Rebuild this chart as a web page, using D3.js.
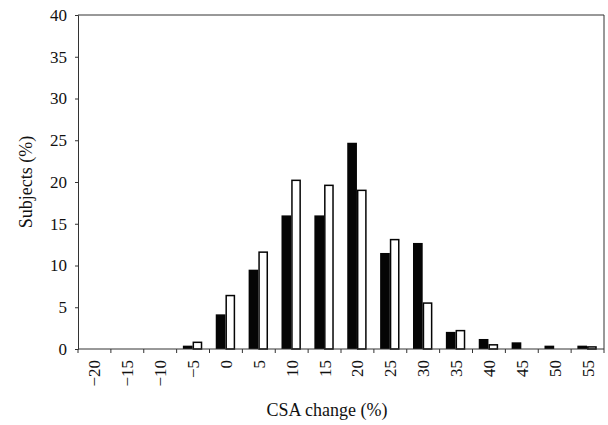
<!DOCTYPE html>
<meta charset="utf-8">
<head>
<script src="https://d3js.org/d3.v7.min.js"></script>
</head>
<style>
  body { margin: 0; background: #fff; }
  svg { display: block; font-family: "Liberation Serif", "DejaVu Serif", serif; }
  .domain, .tick line { stroke: #333; }
</style>
<body>
<script>
  // CSA change bins (%)
  var categories = [-20, -15, -10, -5, 0, 5, 10, 15, 20, 25, 30, 35, 40, 45, 50, 55];
  var blackValues = [0, 0, 0, 0.4, 4.15, 9.5, 16.0, 16.0, 24.7, 11.5, 12.7, 2.05, 1.2, 0.8, 0.4, 0.4];
  var whiteValues = [0, 0, 0, 0.8, 6.4, 11.6, 20.2, 19.6, 19.0, 13.1, 5.5, 2.2, 0.5, 0, 0, 0.25];
  var yTicks = [0, 5, 10, 15, 20, 25, 30, 35, 40];

  var width = 608, height = 425;
  var margin = {top: 15, right: 4, bottom: 76, left: 78};

  var svg = d3.select("body").append("svg")
    .attr("width", width)
    .attr("height", height);

  var x = d3.scaleBand()
    .domain(categories)
    .range([margin.left, width - margin.right])
    .paddingInner(0).paddingOuter(0);

  var sub = d3.scaleBand()
    .domain(["black", "white"])
    .range([x.bandwidth() * 0.19, x.bandwidth() * 0.78]);

  var y = d3.scaleLinear()
    .domain([0, 40])
    .range([height - margin.bottom, margin.top]);

  var fmt = function(d) { return d < 0 ? "\u2212" + Math.abs(d) : String(d); };

  // frame: top and right
  svg.append("line")
    .attr("x1", margin.left).attr("x2", width - margin.right)
    .attr("y1", y(40)).attr("y2", y(40))
    .attr("stroke", "#333");
  svg.append("line")
    .attr("x1", width - margin.right).attr("x2", width - margin.right)
    .attr("y1", y(40)).attr("y2", y(0))
    .attr("stroke", "#333");

  // bars
  var groups = svg.append("g").selectAll("g")
    .data(categories)
   .enter().append("g")
    .attr("transform", function(d) { return "translate(" + x(d) + ",0)"; });

  groups.append("rect")
    .attr("x", sub("black"))
    .attr("width", sub.bandwidth())
    .attr("y", function(d, i) { return y(blackValues[i]); })
    .attr("height", function(d, i) { return y(0) - y(blackValues[i]); })
    .attr("fill", "#050505");

  groups.filter(function(d, i) { return whiteValues[i] > 0; })
    .append("rect")
    .attr("x", sub("white") + 0.75)
    .attr("width", sub.bandwidth() - 1.5)
    .attr("y", function(d) { return y(whiteValues[categories.indexOf(d)]); })
    .attr("height", function(d) { return y(0) - y(whiteValues[categories.indexOf(d)]); })
    .attr("fill", "#fff")
    .attr("stroke", "#050505")
    .attr("stroke-width", 1.5);

  // y axis
  var yAxis = svg.append("g")
    .attr("transform", "translate(" + margin.left + ",0)")
    .call(d3.axisLeft(y).tickValues(yTicks).tickSize(3).tickPadding(8));
  yAxis.selectAll("text")
    .attr("font-size", 17)
    .attr("font-family", "Liberation Serif, serif")
    .attr("fill", "#111");

  // x axis: ticks at bin edges, labels at bin centres
  var xAxisG = svg.append("g");
  xAxisG.append("line")
    .attr("x1", margin.left).attr("x2", width - margin.right)
    .attr("y1", y(0)).attr("y2", y(0))
    .attr("stroke", "#333");
  var edges = categories.map(function(d) { return x(d); }).concat([width - margin.right]);
  xAxisG.selectAll(".edge")
    .data(edges)
   .enter().append("line")
    .attr("class", "edge")
    .attr("x1", function(d) { return d; }).attr("x2", function(d) { return d; })
    .attr("y1", y(0)).attr("y2", y(0) + 4)
    .attr("stroke", "#333");
  xAxisG.selectAll(".lbl")
    .data(categories)
   .enter().append("text")
    .attr("class", "lbl")
    .attr("transform", function(d) {
      return "translate(" + (x(d) + x.bandwidth() / 2 + 6) + "," + (y(0) + 11) + ") rotate(-90)";
    })
    .attr("text-anchor", "end")
    .attr("font-size", 17)
    .attr("fill", "#111")
    .text(fmt);

  // titles
  svg.append("text")
    .attr("x", 327)
    .attr("y", 416)
    .attr("text-anchor", "middle")
    .attr("font-size", 18)
    .attr("fill", "#111")
    .text("CSA change (%)");

  svg.append("text")
    .attr("transform", "translate(32," + ((y(0) + y(40)) / 2) + ") rotate(-90)")
    .attr("text-anchor", "middle")
    .attr("font-size", 18)
    .attr("fill", "#111")
    .text("Subjects (%)");
</script>
</body>
